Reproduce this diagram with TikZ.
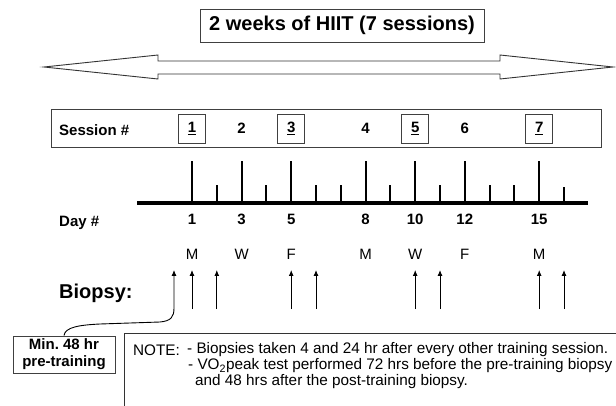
\documentclass[tikz,border=0pt]{standalone}
\usepackage{fontspec}
\setmainfont{Liberation Sans}
\usepackage{tikz}
\usetikzlibrary{arrows.meta,positioning}

\begin{document}
\begin{tikzpicture}[
    x=1pt,y=-1pt,
    titlebox/.style={draw=black!75, line width=0.9pt, minimum width=284pt, minimum height=33pt,
                     inner sep=0pt, font=\fontsize{20}{22}\selectfont\bfseries},
    rowbox/.style={draw=black!75, line width=0.9pt, minimum width=550pt, minimum height=38pt, inner sep=0pt},
    numbox/.style={draw=black!75, line width=0.8pt, minimum width=27pt, minimum height=29pt,
                   inner sep=0pt, font=\fontsize{15}{16}\selectfont\bfseries},
    num/.style={inner sep=0pt, font=\fontsize{15}{16}\selectfont\bfseries},
    lbl/.style={anchor=west, inner sep=0pt, font=\fontsize{15}{16}\selectfont\bfseries},
    wday/.style={inner sep=0pt, font=\fontsize{15}{16}\selectfont},
    notetext/.style={anchor=west, inner sep=0pt, font=\fontsize{15.3}{16}\selectfont},
    prebox/.style={draw=black!75, line width=0.9pt, align=center, minimum width=102pt, minimum height=37pt,
                   inner sep=0pt, font=\fontsize{15}{17}\selectfont\bfseries},
    outline/.style={draw=black!80, line width=0.9pt},
    axis/.style={line width=4pt},
    tall/.style={line width=2pt},
    short/.style={line width=2pt},
    arrow/.style={-{Latex[length=6pt,width=5pt]}, line width=0.9pt}
]
\useasboundingbox (0,0) rectangle (616,406);

% Header and the two-week span
\node[titlebox] (title) at (342,25.5) {2 weeks of HIIT (7 sessions)};
\draw[outline] (44,67) -- (158,55) -- (158,61) -- (500,61) -- (500,55) -- (613,67)
    -- (500,79) -- (500,74) -- (158,74) -- (158,79) -- cycle;

% Day positions on the time line
\coordinate (d1) at (192,203);
\coordinate (d2) at (216.8,203);
\coordinate (d3) at (241.6,203);
\coordinate (d4) at (266.4,203);
\coordinate (d5) at (291.2,203);
\coordinate (d6) at (316,203);
\coordinate (d7) at (340.8,203);
\coordinate (d8) at (365.6,203);
\coordinate (d9) at (390.4,203);
\coordinate (d10) at (415.2,203);
\coordinate (d11) at (440,203);
\coordinate (d12) at (464.8,203);
\coordinate (d13) at (489.6,203);
\coordinate (d14) at (514.4,203);
\coordinate (d15) at (539.2,203);
\coordinate (d16) at (564,203);
\coordinate (hi) at (0,161);
\coordinate (lo) at (0,185);
\coordinate (srow) at (0,128.5);
\coordinate (drow) at (0,219);
\coordinate (wrow) at (0,254);
\coordinate (bio) at (0,309);
\coordinate (tip) at (0,270);

% Session row
\node[rowbox] (sessions) at (326,128) {};
\node[lbl] (sesslbl) at (59,130) {Session \#};
\node[numbox] (s1) at (d1 |- srow) {\underline{1}};
\node[num] (s2) at (d3 |- srow) {2};
\node[numbox] (s3) at (d5 |- srow) {\underline{3}};
\node[num] (s4) at (d8 |- srow) {4};
\node[numbox] (s5) at (d10 |- srow) {\underline{5}};
\node[num] (s6) at (d12 |- srow) {6};
\node[numbox] (s7) at (d15 |- srow) {\underline{7}};

% Time line with ticks
\coordinate (axl) at (137,203);
\coordinate (axr) at (588,203);
\draw[axis] (axl) -- (axr);
\draw[tall] (d1) -- (d1 |- hi);
\draw[short] (d2) -- (d2 |- lo);
\draw[tall] (d3) -- (d3 |- hi);
\draw[short] (d4) -- (d4 |- lo);
\draw[tall] (d5) -- (d5 |- hi);
\draw[short] (d6) -- (d6 |- lo);
\draw[short] (d7) -- (d7 |- lo);
\draw[tall] (d8) -- (d8 |- hi);
\draw[short] (d9) -- (d9 |- lo);
\draw[tall] (d10) -- (d10 |- hi);
\draw[short] (d11) -- (d11 |- lo);
\draw[tall] (d12) -- (d12 |- hi);
\draw[short] (d13) -- (d13 |- lo);
\draw[short] (d14) -- (d14 |- lo);
\draw[tall] (d15) -- (d15 |- hi);
\draw[short] (d16) -- ++(0,-16);

% Day numbers and weekdays
\node[lbl] (daylbl) at (59,223) {Day \#};
\node[num] (n1) at (d1 |- drow) {1};
\node[num] (n3) at (d3 |- drow) {3};
\node[num] (n5) at (d5 |- drow) {5};
\node[num] (n8) at (d8 |- drow) {8};
\node[num] (n10) at (d10 |- drow) {10};
\node[num] (n12) at (d12 |- drow) {12};
\node[num] (n15) at (d15 |- drow) {15};
\node[wday] (w1) at (d1 |- wrow) {M};
\node[wday] (w3) at (d3 |- wrow) {W};
\node[wday] (w5) at (d5 |- wrow) {F};
\node[wday] (w8) at (d8 |- wrow) {M};
\node[wday] (w10) at (d10 |- wrow) {W};
\node[wday] (w12) at (d12 |- wrow) {F};
\node[wday] (w15) at (d15 |- wrow) {M};

% Biopsies
\node[lbl, font=\fontsize{20}{22}\selectfont\bfseries] (biolbl) at (59,293) {Biopsy:};
\draw[arrow] (d1 |- bio) -- (d1 |- tip);
\draw[arrow] (d2 |- bio) -- (d2 |- tip);
\draw[arrow] (d5 |- bio) -- (d5 |- tip);
\draw[arrow] (d6 |- bio) -- (d6 |- tip);
\draw[arrow] (d10 |- bio) -- (d10 |- tip);
\draw[arrow] (d11 |- bio) -- (d11 |- tip);
\draw[arrow] (d15 |- bio) -- (d15 |- tip);
\draw[arrow] (d16 |- bio) -- (d16 |- tip);

% Pre-training biopsy
\node[prebox] (pre) at (64,354.5) {Min.\ 48 hr\\pre-training};
\coordinate (pretip) at (174,270);
\draw[arrow] (pre.north) .. controls (65,327) and (80,325) .. (100,324) -- (160,322)
    .. controls (171,321) and (174,317) .. (174,308) -- (pretip);

% Note, box runs off the page
\coordinate (nb) at (124,406);
\coordinate (nr) at (616,333);
\draw[outline] (nb) |- (nr);
\node[notetext] (notelbl) at (133,350) {NOTE:};
\node[notetext] (note1) at (187,350) {- Biopsies taken 4 and 24 hr after every other training session.};
\node[notetext] (note2) at (188,366) {- VO\textsubscript{2}peak test performed 72 hrs before the pre-training biopsy};
\node[notetext] (note3) at (195,382) {and 48 hrs after the post-training biopsy.};
\end{tikzpicture}
\end{document}
